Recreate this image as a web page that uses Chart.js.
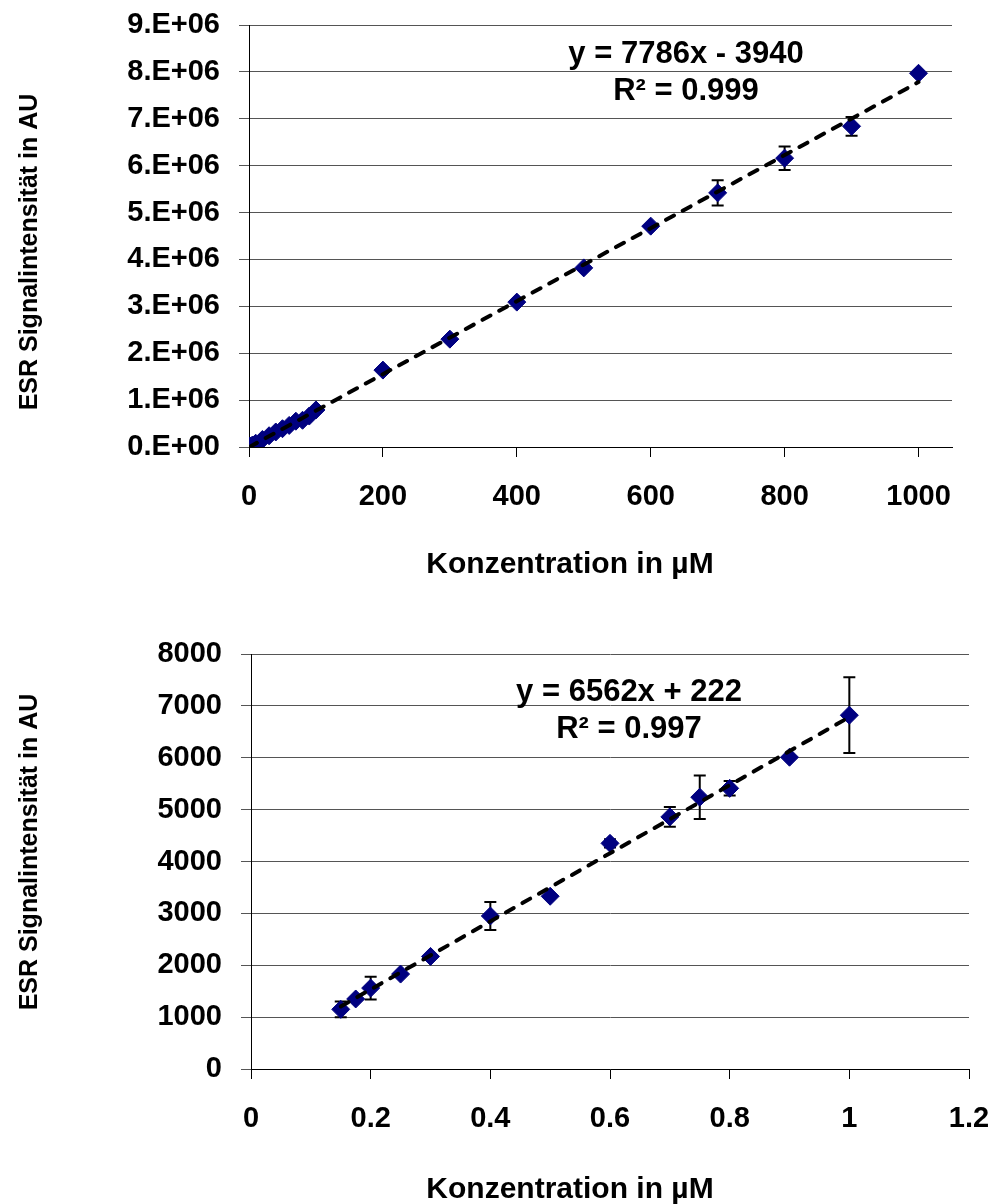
<!DOCTYPE html>
<html>
<head>
<meta charset="utf-8">
<script src="https://cdn.jsdelivr.net/npm/chart.js@4.4.1/dist/chart.umd.min.js"></script>
<style>
  body { margin: 0; background: #fff; }
  .box { position: absolute; left: 0; width: 991px; }
</style>
</head>
<body>
<div class="box" style="top:0;height:600px"><canvas id="topChart" width="991" height="600"></canvas></div>
<div class="box" style="top:600px;height:604px"><canvas id="bottomChart" width="991" height="604"></canvas></div>
<script>
// top panel: 0 - 1000 µM
const topX   = [0, 1, 2, 5, 10, 20, 30, 40, 50, 60, 70, 80, 90, 100, 200, 300, 400, 500, 600, 700, 800, 900, 1000];
const topY   = [5000, 10000, 18000, 40000, 80000, 160000, 240000, 320000, 390000, 460000, 550000, 570000, 660000, 790000,
                1640000, 2300000, 3090000, 3820000, 4710000, 5420000, 6160000, 6840000, 7970000];
const topErr = [0, 0, 0, 0, 0, 0, 0, 0, 0, 0, 0, 0, 0, 0, 0, 0, 0, 0, 0, 270000, 250000, 200000, 0];
const topTrendX = [0, 1000];
const topTrendY = [-3940, 7782060];
const topYTicks = ["0.E+00", "1.E+06", "2.E+06", "3.E+06", "4.E+06", "5.E+06", "6.E+06", "7.E+06", "8.E+06", "9.E+06"];

// bottom panel: 0 - 1 µM
const botX   = [0.15, 0.175, 0.2, 0.25, 0.3, 0.4, 0.5, 0.6, 0.7, 0.75, 0.8, 0.9, 1.0];
const botY   = [1150, 1350, 1560, 1830, 2170, 2950, 3330, 4350, 4860, 5240, 5410, 6010, 6820];
const botErr = [150, 0, 220, 0, 0, 270, 0, 80, 190, 420, 140, 0, 730];
const botTrendX = [0.15, 1.0];
const botTrendY = [1206, 6784];

const FONT = '"Liberation Sans", Arial, sans-serif';
const NAVY = '#000080';

const errorBars = {
  id: 'errorBars',
  beforeDatasetsDraw(chart, args, opts) {
    const { ctx, scales: { x, y } } = chart;
    ctx.save();
    ctx.strokeStyle = '#000';
    ctx.lineWidth = 2;
    opts.xs.forEach((xv, i) => {
      const e = opts.err[i];
      if (!e) return;
      const px = x.getPixelForValue(xv);
      const top = y.getPixelForValue(opts.ys[i] + e);
      const bot = y.getPixelForValue(opts.ys[i] - e);
      ctx.beginPath();
      ctx.moveTo(px, top); ctx.lineTo(px, bot);
      ctx.moveTo(px - 6, top); ctx.lineTo(px + 6, top);
      ctx.moveTo(px - 6, bot); ctx.lineTo(px + 6, bot);
      ctx.stroke();
    });
    ctx.restore();
  }
};

const texts = {
  id: 'texts',
  afterDraw(chart, args, opts) {
    const ctx = chart.ctx;
    ctx.save();
    ctx.fillStyle = '#000';
    ctx.textAlign = 'center';
    ctx.textBaseline = 'middle';
    ctx.font = 'bold 31px ' + FONT;
    opts.eq.forEach(t => ctx.fillText(t.text, t.x, t.y));
    ctx.font = 'bold 30px ' + FONT;
    ctx.fillText(opts.xTitle.text, opts.xTitle.x, opts.xTitle.y);
    ctx.font = 'bold 25px ' + FONT;
    ctx.translate(opts.yTitle.x, opts.yTitle.y);
    ctx.rotate(-Math.PI / 2);
    ctx.fillText(opts.yTitle.text, 0, 0);
    ctx.restore();
  }
};

function makeChart(id, cfg) {
  const tickFont = { family: FONT, size: 29, weight: 'bold' };
  return new Chart(document.getElementById(id), {
    type: 'scatter',
    data: {
      datasets: [
        {
          data: cfg.xs.map((v, i) => ({ x: v, y: cfg.ys[i] })),
          pointStyle: 'rectRot',
          pointRadius: 9,
          pointBackgroundColor: NAVY,
          pointBorderColor: NAVY,
          pointBorderWidth: 1,
          order: 2
        },
        {
          type: 'line',
          data: cfg.trendX.map((v, i) => ({ x: v, y: cfg.trendY[i] })),
          borderColor: '#000',
          borderWidth: 4,
          borderDash: [9, 10],
          borderCapStyle: 'round',
          pointRadius: 0,
          fill: false,
          order: 1
        }
      ]
    },
    options: {
      responsive: false,
      animation: false,
      devicePixelRatio: 1,
      layout: { padding: cfg.padding },
      plugins: {
        legend: { display: false },
        tooltip: { enabled: false },
        errorBars: { xs: cfg.xs, ys: cfg.ys, err: cfg.err },
        texts: cfg.texts
      },
      scales: {
        x: {
          type: 'linear',
          min: 0,
          max: cfg.xMax,
          border: { color: '#000', width: 1 },
          grid: { drawOnChartArea: false, tickLength: 10, color: '#000' },
          ticks: {
            stepSize: cfg.xStep,
            includeBounds: false,
            padding: 23,
            maxRotation: 0,
            color: '#000',
            font: tickFont,
            callback: cfg.xFmt
          },
          afterFit: s => { s.height = cfg.xHeight; s.paddingLeft = 0; s.paddingRight = 0; }
        },
        y: {
          min: 0,
          max: cfg.yMax,
          border: { color: '#000', width: 1 },
          grid: { tickLength: 10, color: '#555' },
          ticks: {
            stepSize: cfg.yStep,
            padding: 19,
            color: '#000',
            font: tickFont,
            callback: cfg.yFmt
          },
          afterFit: s => { s.width = cfg.yWidth; s.paddingTop = 0; s.paddingBottom = 0; }
        }
      }
    },
    plugins: [errorBars, texts]
  });
}

makeChart('topChart', {
  xs: topX, ys: topY, err: topErr, trendX: topTrendX, trendY: topTrendY,
  xMax: 1050, xStep: 200, yMax: 9000000, yStep: 1000000,
  xFmt: v => String(v),
  yFmt: (v, i) => topYTicks[i],
  padding: { top: 25, right: 39, left: 0, bottom: 0 },
  xHeight: 153, yWidth: 249,
  texts: {
    eq: [{ text: 'y = 7786x - 3940', x: 686, y: 54 }, { text: 'R² = 0.999', x: 686, y: 91 }],
    xTitle: { text: 'Konzentration in µM', x: 570, y: 565 },
    yTitle: { text: 'ESR Signalintensität in AU', x: 30, y: 252 }
  }
});

makeChart('bottomChart', {
  xs: botX, ys: botY, err: botErr, trendX: botTrendX, trendY: botTrendY,
  xMax: 1.2, xStep: 0.2, yMax: 8000, yStep: 1000,
  xFmt: v => String(+v.toFixed(1)),
  yFmt: v => String(v),
  padding: { top: 54, right: 22, left: 0, bottom: 0 },
  xHeight: 135, yWidth: 251,
  texts: {
    eq: [{ text: 'y = 6562x + 222', x: 629, y: 92 }, { text: 'R² = 0.997', x: 629, y: 129 }],
    xTitle: { text: 'Konzentration in µM', x: 570, y: 590 },
    yTitle: { text: 'ESR Signalintensität in AU', x: 30, y: 252 }
  }
});
</script>
</body>
</html>
